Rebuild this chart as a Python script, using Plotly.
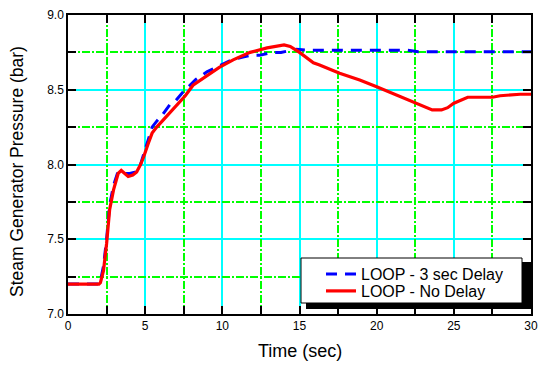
import plotly.graph_objects as go

# Data
t_nodelay = [0, 2.0, 2.1, 2.3, 2.5, 2.7, 2.95, 3.25, 3.45, 3.7, 3.9, 4.2, 4.45, 4.7, 4.9, 5.2, 5.45,
             5.75, 6.1, 6.4, 7.0, 7.6, 8.1, 8.8, 9.8, 10.7, 11.8, 12.9, 13.5, 14.0, 14.4, 15.0, 15.9,
             16.3, 17.6, 18.9, 20.0, 21.3, 22.6, 23.2, 23.6, 24.2, 24.6, 25.0, 25.4, 25.9, 26.5, 27.5,
             28.0, 29.3, 30.0]
p_nodelay = [7.2, 7.2, 7.21, 7.29, 7.47, 7.70, 7.83, 7.94, 7.96, 7.94, 7.92, 7.93, 7.95, 8.0, 8.05,
             8.14, 8.21, 8.25, 8.29, 8.32, 8.39, 8.46, 8.53, 8.58, 8.65, 8.70, 8.75, 8.78, 8.79, 8.80,
             8.79, 8.75, 8.68, 8.665, 8.61, 8.565, 8.52, 8.465, 8.41, 8.385, 8.365, 8.365, 8.38, 8.41,
             8.43, 8.45, 8.45, 8.45, 8.46, 8.47, 8.47]

t_delay = [0, 2.0, 2.1, 2.3, 2.5, 2.7, 2.95, 3.2, 3.4, 3.7, 4.0, 4.4, 4.7, 5.0, 5.2, 5.45, 5.75, 6.1,
           6.6, 7.0, 7.5, 7.9, 8.3, 9.0, 9.6, 10.6, 11.4, 11.8, 12.4, 13.2, 13.8, 14.3, 14.8, 15.5,
           16.5, 18, 20, 22, 22.7, 23.2, 24, 26, 26.5, 27, 28, 30]
p_delay = [7.2, 7.2, 7.22, 7.32, 7.5, 7.73, 7.86, 7.94, 7.95, 7.94, 7.94, 7.95, 8.0, 8.1, 8.17, 8.25,
           8.29, 8.33, 8.40, 8.43, 8.49, 8.53, 8.57, 8.62, 8.65, 8.70, 8.72, 8.73, 8.73, 8.75, 8.75,
           8.76, 8.77, 8.765, 8.765, 8.765, 8.765, 8.765, 8.755, 8.755, 8.755, 8.755, 8.76, 8.755,
           8.755, 8.755]

x_ticks = [0, 5, 10, 15, 20, 25, 30]
x_minor = [2.5, 7.5, 12.5, 17.5, 22.5, 27.5]
y_ticks = [7.0, 7.5, 8.0, 8.5, 9.0]
y_minor = [7.25, 7.75, 8.25, 8.75]

x_title = "Time (sec)"
y_title = "Steam Generator Pressure (bar)"

W, H = 542, 365
L, R, T, B = 68, 11, 15, 51
pw, ph = W - L - R, H - T - B

def px2paper(px, py):
    return (px - L) / pw, (H - B - py) / ph

fig = go.Figure()
fig.add_trace(go.Scatter(x=t_delay, y=p_delay, mode="lines", name="LOOP - 3 sec Delay",
                         xaxis="x", yaxis="y",
                         line=dict(color="#0000FF", width=3, dash="11px,8px"), legend="legend"))
fig.add_trace(go.Scatter(x=t_nodelay, y=p_nodelay, mode="lines", name="LOOP - No Delay",
                         xaxis="x2", yaxis="y2",
                         line=dict(color="#FF0000", width=3.2), legend="legend2"))

# legend shadow and box
sx0, sy0 = px2paper(306, 309)
sx1, sy1 = px2paper(532, 262)
bx0, by0 = px2paper(301, 303)
bx1, by1 = px2paper(522, 258)
fig.add_shape(type="rect", xref="paper", yref="paper", x0=sx0, y0=sy0, x1=sx1, y1=sy1,
              fillcolor="black", line=dict(width=0), layer="above")
fig.add_shape(type="rect", xref="paper", yref="paper", x0=bx0, y0=by0, x1=bx1, y1=by1,
              fillcolor="white", line=dict(color="black", width=1), layer="above")

l1x, l1y = px2paper(321, 274)
l2x, l2y = px2paper(321, 291)

# axis titles as annotations for exact placement
tx, ty = px2paper(300, 351)
yx, yy = px2paper(17, 172)
fig.add_annotation(text=x_title, xref="paper", yref="paper", x=tx, y=ty, showarrow=False,
                   xanchor="center", yanchor="middle", font=dict(size=18, color="black"))
fig.add_annotation(text=y_title, xref="paper", yref="paper", x=yx, y=yy, showarrow=False,
                   textangle=-90, xanchor="center", yanchor="middle",
                   font=dict(size=17.5, color="black"))

GREEN = "#00FF00"
CYAN = "#00FFFF"

tickfont = dict(family="Liberation Sans, Arial", size=12, color="black")

major_common = dict(
    showline=True, linecolor="black", linewidth=1.5, mirror="ticks",
    ticks="inside", ticklen=8, tickcolor="black", tickwidth=1.5,
    showgrid=True, gridcolor=CYAN, gridwidth=1.5, zeroline=False,
    tickfont=tickfont, automargin=False,
)
minor_common = dict(
    showline=False, mirror="ticks", ticks="inside", ticklen=8, tickcolor="black", tickwidth=1.5,
    showgrid=True, gridcolor=GREEN, gridwidth=1.6, griddash="8px,2px,2px,2px", zeroline=False,
    showticklabels=False, automargin=False,
)

leg_common = dict(xanchor="left", yanchor="middle", bgcolor="rgba(0,0,0,0)",
                  borderwidth=0, font=dict(size=16, color="black"))

fig.update_layout(
    width=W, height=H,
    margin=dict(l=L, r=R, t=T, b=B),
    paper_bgcolor="white", plot_bgcolor="white",
    font=dict(family="Liberation Sans, Arial", color="black"),
    xaxis=dict(range=[0, 30], tickvals=x_ticks, ticktext=[str(v) for v in x_ticks],
               **major_common),
    yaxis=dict(range=[7.0, 9.0], tickvals=y_ticks, ticktext=[f"{v:.1f}" for v in y_ticks],
               **major_common),
    xaxis2=dict(range=[0, 30], tickvals=x_minor, overlaying="x", anchor="y2", side="bottom",
                **minor_common),
    yaxis2=dict(range=[7.0, 9.0], tickvals=y_minor, overlaying="y", anchor="x2", side="left",
                **minor_common),
    legend=dict(x=l1x, y=l1y, **leg_common),
    legend2=dict(x=l2x, y=l2y, **leg_common),
    showlegend=True,
)

fig.write_html("out.html")
